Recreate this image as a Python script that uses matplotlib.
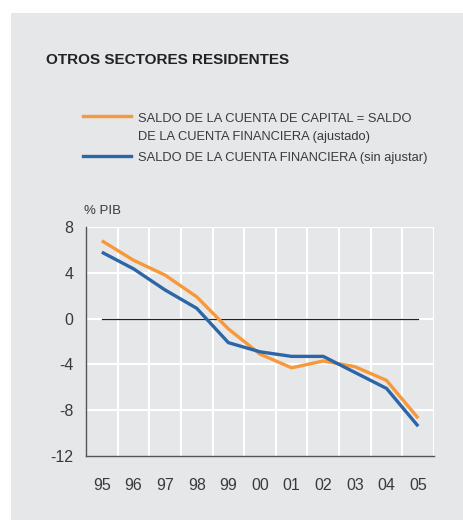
import matplotlib.pyplot as plt
import matplotlib.patches as mpatches

plt.rcParams['font.family'] = ['Liberation Sans', 'DejaVu Sans']

# Data (% PIB)
years = ['95', '96', '97', '98', '99', '00', '01', '02', '03', '04', '05']
ajustado = [6.8, 5.1, 3.8, 1.9, -0.9, -3.1, -4.3, -3.7, -4.2, -5.4, -8.7]
sin_ajustar = [5.8, 4.35, 2.5, 0.9, -2.1, -2.9, -3.3, -3.3, -4.7, -6.1, -9.4]
y_ticks = [8, 4, 0, -4, -8, -12]

orange = '#f7983a'
blue = '#2c66a6'
panel = '#e6e7e9'
text_col = '#3a3a3a'

fig = plt.figure(figsize=(4.64, 5.2), dpi=100)
fig.patch.set_facecolor('white')
# gray panel behind everything
fig.patches.append(mpatches.Rectangle((11 / 464, 0), 1 - 11 / 464, 1 - 13 / 520,
                                      transform=fig.transFigure, facecolor=panel,
                                      edgecolor='none', zorder=-10))

ax = fig.add_axes([86 / 464, 1 - 456 / 520, 348 / 464, 229 / 520])
ax.set_facecolor(panel)

x = list(range(len(years)))
ax.plot(x, [0] * len(x), color='#222222', linewidth=0.9, zorder=2)
ax.plot(x, ajustado, color=orange, linewidth=2.4, solid_capstyle='butt', zorder=3)
ax.plot(x, sin_ajustar, color=blue, linewidth=2.4, solid_capstyle='butt', zorder=3)

ax.set_xlim(-0.5, 10.5)
ax.set_ylim(-12, 8)
ax.set_yticks(y_ticks)
ax.set_yticklabels([str(v) for v in y_ticks])
ax.set_xticks(x)
ax.set_xticklabels(years)

# white grid: vertical lines between categories, horizontal at ticks
for xv in [i + 0.5 for i in range(len(years))]:
    ax.axvline(xv, color='white', linewidth=1.5, zorder=1)
for yv in y_ticks[:-1]:
    ax.axhline(yv, color='white', linewidth=1.5, zorder=1)

for s in ['top', 'right']:
    ax.spines[s].set_visible(False)
for s in ['left', 'bottom']:
    ax.spines[s].set_color('#555555')
    ax.spines[s].set_linewidth(1.0)

ax.tick_params(axis='both', length=0, labelsize=11.5, colors=text_col)
ax.tick_params(axis='x', pad=16)
ax.tick_params(axis='y', pad=9)

fig.text(84 / 464, 1 - 211 / 520, '% PIB', fontsize=9.5, color=text_col,
         ha='left', va='center')

fig.text(46 / 464, 1 - 60 / 520, 'OTROS SECTORES RESIDENTES', fontsize=11,
         fontweight='bold', color='#222222', ha='left', va='center')

# legend
fig.add_artist(plt.Line2D([83 / 464, 131 / 464], [1 - 116 / 520] * 2,
                          color=orange, linewidth=2.4, transform=fig.transFigure))
fig.add_artist(plt.Line2D([83 / 464, 131 / 464], [1 - 156 / 520] * 2,
                          color=blue, linewidth=2.4, transform=fig.transFigure))
fig.text(138 / 464, 1 - 119 / 520, 'SALDO DE LA CUENTA DE CAPITAL = SALDO',
         fontsize=9.3, color=text_col, ha='left', va='center')
fig.text(138 / 464, 1 - 137 / 520, 'DE LA CUENTA FINANCIERA (ajustado)',
         fontsize=9.3, color=text_col, ha='left', va='center')
fig.text(138 / 464, 1 - 158 / 520, 'SALDO DE LA CUENTA FINANCIERA (sin ajustar)',
         fontsize=9.3, color=text_col, ha='left', va='center')

fig.savefig('out.png', dpi=100, facecolor=fig.get_facecolor())
